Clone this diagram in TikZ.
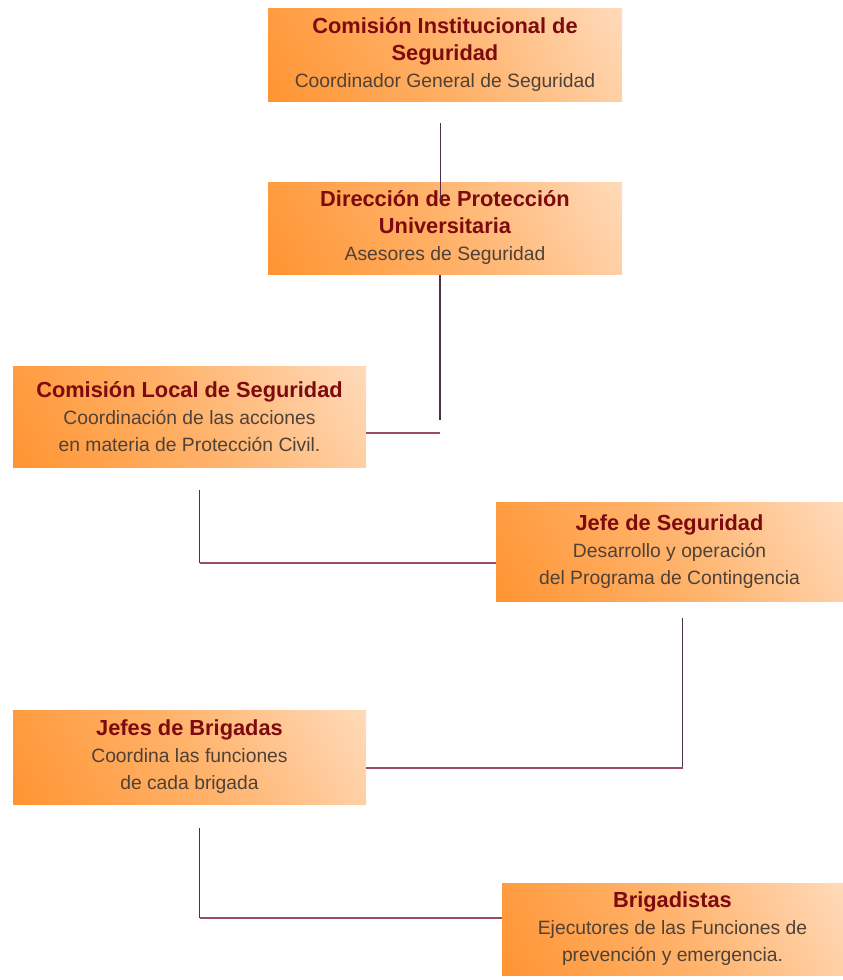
\documentclass[tikz,border=0pt]{standalone}
\usepackage{fontspec}
\setmainfont{Liberation Sans}
\definecolor{orA}{RGB}{255,148,50}
\definecolor{orM}{RGB}{255,178,106}
\definecolor{orB}{RGB}{255,218,186}
\definecolor{ttlc}{RGB}{125,10,15}
\definecolor{subc}{RGB}{80,65,55}
\definecolor{vln}{RGB}{75,50,70}
\definecolor{hln}{RGB}{155,75,105}
\pgfdeclareverticalshading{boxshade}{100bp}{color(0bp)=(orA); color(15.8bp)=(orA); color(50bp)=(orM); color(84.2bp)=(orB); color(100bp)=(orB)}
\newcommand{\boxtitle}[1]{{\color{ttlc}\bfseries\fontsize{21.8}{27}\selectfont #1}}
\tikzset{
  box/.style={rectangle, inner sep=0pt, align=center,
    shading=boxshade, shading angle=-60,
    text=subc, font=\fontsize{19.3}{27}\selectfont},
  vline/.style={draw=vln, line width=1.6pt},
  hline/.style={draw=hln, line width=1.8pt},
}
\begin{document}
\begin{tikzpicture}[x=1pt,y=-1pt]
\useasboundingbox (0,0) rectangle (843,980);

\node[box, minimum width=354pt, minimum height=93pt] (b1) at (445,55)
  {\boxtitle{Comisión Institucional de}\\\boxtitle{Seguridad}\\Coordinador General de Seguridad};
\node[box, minimum width=354pt, minimum height=92pt] (b2) at (445,228)
  {\boxtitle{Dirección de Protección}\\\boxtitle{Universitaria}\\Asesores de Seguridad};
\node[box, minimum width=353pt, minimum height=101pt] (b3) at (189.5,416.5)
  {\boxtitle{Comisión Local de Seguridad}\\Coordinación de las acciones\\en materia de Protección Civil.};
\node[box, minimum width=347pt, minimum height=99pt] (b4) at (669.5,551.5)
  {\boxtitle{Jefe de Seguridad}\\Desarrollo y operación\\del Programa de Contingencia};
\node[box, minimum width=353pt, minimum height=94pt] (b5) at (189.5,757)
  {\boxtitle{Jefes de Brigadas}\\Coordina las funciones\\de cada brigada};
\node[box, minimum width=341pt, minimum height=92pt] (b6) at (672.5,929)
  {\boxtitle{Brigadistas}\\Ejecutores de las Funciones de\\prevención y emergencia.};

% connector 1 -> 2
\coordinate (s12) at (440.5,123);
\coordinate (e12) at (440.5,200);
\draw[vline] (s12) -- (e12);

% connector 2 -> 3
\coordinate (s23) at (440,275);
\coordinate (k23) at (440,420);
\coordinate (c23) at (440,433);
\draw[vline] (s23) -- (k23);
\draw[hline] (c23) -- (c23 -| b3.east);

% connector 3 -> 4
\coordinate (s34) at (199.5,490);
\coordinate (c34) at (199.5,563);
\draw[vline] (s34) -- (c34);
\draw[hline] (c34) -- (c34 -| b4.west);

% connector 4 -> 5
\coordinate (s45) at (682.5,618);
\coordinate (c45) at (682.5,768);
\draw[vline] (s45) -- (c45);
\draw[hline] (c45) -- (c45 -| b5.east);

% connector 5 -> 6
\coordinate (s56) at (199.5,828);
\coordinate (c56) at (199.5,918);
\draw[vline] (s56) -- (c56);
\draw[hline] (c56) -- (c56 -| b6.west);
\end{tikzpicture}
\end{document}
